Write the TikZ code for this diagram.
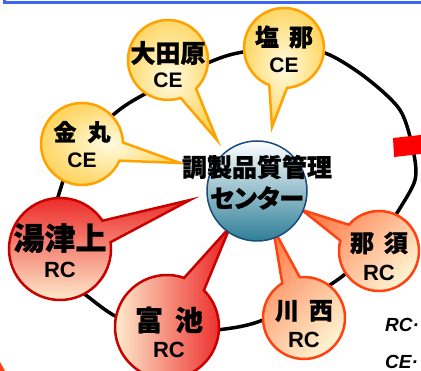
\documentclass[tikz,border=0pt]{standalone}
\usepackage{fontspec}
\setmainfont{Liberation Sans}
\newfontfamily\jp{Noto Sans CJK JP}[RawFeature=+palt, FakeBold=1]
\usetikzlibrary{calc}
\definecolor{ceborder}{RGB}{255,162,0}
\definecolor{ceinner}{RGB}{255,251,224}
\definecolor{ceouter}{RGB}{255,214,100}
\definecolor{rcdark}{RGB}{200,0,0}
\definecolor{rcred}{RGB}{235,30,30}
\definecolor{rcpale}{RGB}{255,247,214}
\definecolor{rcorange}{RGB}{255,66,16}
\definecolor{rcsalmon}{RGB}{255,128,80}
\definecolor{ctrborder}{RGB}{26,74,122}
\definecolor{ctrteal}{RGB}{46,126,152}
\definecolor{topblue}{RGB}{60,100,240}
\newcommand\drawbubble[4]{%
  \path[#4] let \p1=($(#2)-(#1)$), \n1={atan2(\y1,\x1)} in
    ($(#1)+(\n1+13:#3)$) arc[start angle=\n1+13, end angle=\n1+347, radius=#3] -- (#2) -- cycle;}
\tikzset{
  ring/.style={line width=3.5pt, black},
  cebub/.style={draw=ceborder, line width=2.5pt, inner color=ceinner, outer color=ceouter},
  rcbubA/.style={draw=rcdark, line width=2.5pt, top color=rcred, bottom color=rcpale},
  rcbubB/.style={draw=rcdark, line width=2.5pt, left color=rcpale, right color=rcred},
  rcbubC/.style={draw=rcorange, line width=2.5pt, top color=rcsalmon, bottom color=rcpale, shading angle=45},
  jplabel/.style={inner sep=0pt, font=\jp\bfseries\fontsize{#1}{#1}\selectfont},
  abbr/.style={inner sep=0pt, font=\fontsize{#1}{#1}\selectfont\bfseries},
  legend/.style={inner sep=0pt, anchor=west, font=\fontsize{19}{21}\selectfont\bfseries\itshape},
}
\begin{document}
\begin{tikzpicture}[x=1pt,y=1pt]
\useasboundingbox (0,0) rectangle (421,371);
\clip (0,0) rectangle (421,371);
\fill[white] (0,0) rectangle (421,371);
% top blue frame edge
\draw[topblue, line width=3pt] (4,372) -- (4,368.5) -- (422,368.5);
% bottom-left corner fragment
\fill[rcorange] (0,9) -- (5,0) -- (0,0) -- cycle;
% ring
\draw[ring] plot[smooth cycle] coordinates {(415,191) (413,221) (400,261) (365,294) (325,318) (285,322) (243,319) (210,309) (143,276) (113,256) (75,218) (57,171) (46,130) (58,95) (83,78) (117,54) (165,39) (217,41) (263,51) (333,88) (375,125) (397,158)};
% red marker
\fill[red] (393,233) -- (425,236.5) -- (425,217.5) -- (394,214) -- cycle;
% centres and tips
\coordinate (cOt) at (168,311); \coordinate (tOt) at (217,231);
\coordinate (cSn) at (284,323); \coordinate (tSn) at (272,244);
\coordinate (cKm) at (82,227);  \coordinate (tKm) at (180,208);
\coordinate (cYt) at (60,122);  \coordinate (tYt) at (190,171);
\coordinate (cTk) at (167,44);  \coordinate (tTk) at (230,144);
\coordinate (cKn) at (304,53);  \coordinate (tKn) at (273,143);
\coordinate (cNs) at (379,120); \coordinate (tNs) at (302,161);
\drawbubble{cOt}{tOt}{40pt}{cebub}
\drawbubble{cSn}{tSn}{40pt}{cebub}
\drawbubble{cKm}{tKm}{41pt}{cebub}
\drawbubble{cYt}{tYt}{51pt}{rcbubA}
\drawbubble{cTk}{tTk}{52pt}{rcbubB}
\drawbubble{cKn}{tKn}{41pt}{rcbubC}
\drawbubble{cNs}{tNs}{40pt}{rcbubC}
% centre circle
\node[circle, minimum size=100pt, inner sep=0pt, draw=ctrborder, line width=1.5pt, top color=white, bottom color=ctrteal] (ctr) at (257,180) {};
\node[jplabel=25] (ctr1) at (257,204) {調製品質管理};
\node[jplabel=25] (ctr2) at (257,173) {センター};
% labels
\node[jplabel=25] (lOt) at (168,318) {大田原};
\node[abbr=21] (aOt) at (168,291) {CE};
\node[jplabel=24] (lSn) at (284,334) {塩\hspace{10pt}那};
\node[abbr=21] (aSn) at (284,306) {CE};
\node[jplabel=23] (lKm) at (82,239) {金\hspace{11pt}丸};
\node[abbr=21] (aKm) at (82,211) {CE};
\node[jplabel=31] (lYt) at (60,133) {湯津上};
\node[abbr=22] (aYt) at (60,101) {RC};
\node[jplabel=28] (lTk) at (169,51) {富\hspace{12pt}池};
\node[abbr=22] (aTk) at (169,21) {RC};
\node[jplabel=24] (lKn) at (304,60) {川\hspace{10pt}西};
\node[abbr=22] (aKn) at (304,31) {RC};
\node[jplabel=24] (lNs) at (379,128) {那\hspace{10pt}須};
\node[abbr=22] (aNs) at (379,98) {RC};
% legend fragments
\node[legend] (legRC) at (385,46) {RC·};
\node[legend] (legCE) at (385,9) {CE·};
\end{tikzpicture}
\end{document}
